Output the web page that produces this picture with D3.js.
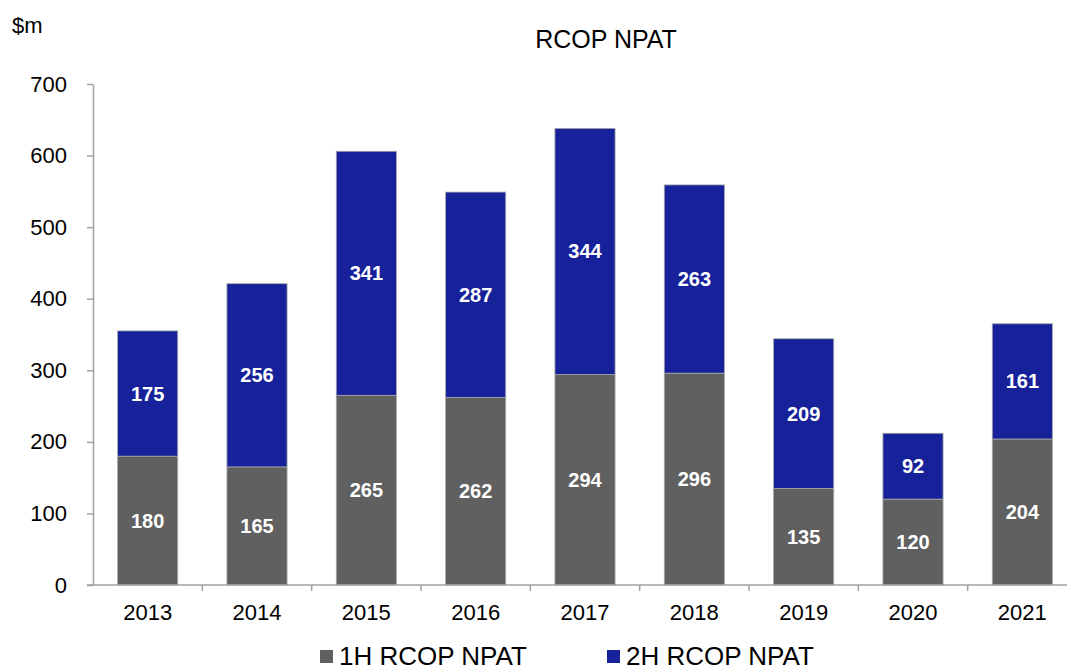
<!DOCTYPE html>
<html>
<head>
<meta charset="utf-8">
<script src="https://cdn.jsdelivr.net/npm/d3@7"></script>
<style>
  body { margin: 0; background: #fff; }
  svg text { font-family: "Liberation Sans", Arial, sans-serif; }
</style>
</head>
<body>
<div id="chart"></div>
<script>
// values
var years = ["2013", "2014", "2015", "2016", "2017", "2018", "2019", "2020", "2021"];
var firstHalf = [180, 165, 265, 262, 294, 296, 135, 120, 204];
var secondHalf = [175, 256, 341, 287, 344, 263, 209, 92, 161];
var yTicks = [0, 100, 200, 300, 400, 500, 600, 700];
var seriesNames = ["1H RCOP NPAT", "2H RCOP NPAT"];

var W = 1067, H = 666;
var MARGIN = {TOP: 84, LEFT: 93, BOTTOM: 81};
var COLORS = ["#606060", "#17229a"];

const svg = d3.select("#chart").append("svg")
  .attr("width", W)
  .attr("height", H)

var x = d3.scaleBand()
  .domain(years)
  .range([MARGIN.LEFT, 1077])
  .paddingInner(0.45)
  .paddingOuter(0.225)

var y = d3.scaleLinear()
  .domain([0, 700])
  .range([H - MARGIN.BOTTOM, MARGIN.TOP])

// y axis
var yAxis = svg.append("g")
  .attr("transform", `translate(${MARGIN.LEFT},0)`)
  .call(d3.axisLeft(y).tickValues(yTicks).tickSize(6).tickPadding(20).tickSizeOuter(0))
yAxis.selectAll("text").style("font-size", "22px").style("fill", "#000")

// stacked bars
var stacked = years.map(function(yr, i) {
  return {year: yr, a: firstHalf[i], b: secondHalf[i]}
})

var bars = svg.append("g")
bars.selectAll("rect.h1")
  .data(stacked)
  .join("rect")
  .attr("class", "h1")
  .attr("x", d => x(d.year))
  .attr("width", x.bandwidth())
  .attr("y", d => y(d.a))
  .attr("height", d => y(0) - y(d.a))
  .attr("fill", COLORS[0])
  .attr("stroke", "#a8a8a8")
  .attr("stroke-width", 0.8)

bars.selectAll("rect.h2")
  .data(stacked)
  .join("rect")
  .attr("class", "h2")
  .attr("x", d => x(d.year))
  .attr("width", x.bandwidth())
  .attr("y", d => y(d.a + d.b))
  .attr("height", d => y(d.a) - y(d.a + d.b))
  .attr("fill", COLORS[1])
  .attr("stroke", "#a8a8a8")
  .attr("stroke-width", 0.8)

// value labels
bars.selectAll("text.l1")
  .data(stacked)
  .join("text")
  .attr("class", "l1")
  .attr("x", d => x(d.year) + x.bandwidth() / 2)
  .attr("y", d => y(d.a / 2) + 7)
  .attr("text-anchor", "middle")
  .style("font-size", "20px")
  .style("font-weight", "bold")
  .style("fill", "#fff")
  .text(d => d.a)

bars.selectAll("text.l2")
  .data(stacked)
  .join("text")
  .attr("class", "l2")
  .attr("x", d => x(d.year) + x.bandwidth() / 2)
  .attr("y", d => y(d.a + d.b / 2) + 7)
  .attr("text-anchor", "middle")
  .style("font-size", "20px")
  .style("font-weight", "bold")
  .style("fill", "#fff")
  .text(d => d.b)

// x axis with ticks between categories
var xAxis = svg.append("g")
  .attr("transform", `translate(0,${y(0)})`)
xAxis.append("line")
  .attr("x1", MARGIN.LEFT - 6)
  .attr("x2", W)
  .attr("stroke", "#a0a0a0")
  .attr("stroke-width", 1.5)
xAxis.selectAll("line.tk")
  .data(years)
  .join("line")
  .attr("class", "tk")
  .attr("x1", d => x(d) + x.bandwidth() + x.step() * 0.225)
  .attr("x2", d => x(d) + x.bandwidth() + x.step() * 0.225)
  .attr("y1", 0)
  .attr("y2", 6)
  .attr("stroke", "#a0a0a0")
  .attr("stroke-width", 1.5)
xAxis.selectAll("text")
  .data(years)
  .join("text")
  .attr("x", d => x(d) + x.bandwidth() / 2)
  .attr("y", 35)
  .attr("text-anchor", "middle")
  .style("font-size", "22px")
  .text(d => d)

yAxis.select(".domain").attr("stroke", "#a0a0a0").attr("stroke-width", 1.5)
yAxis.selectAll(".tick line").attr("stroke", "#a0a0a0").attr("stroke-width", 1.5)

// title and unit
svg.append("text")
  .attr("x", 606)
  .attr("y", 48)
  .attr("text-anchor", "middle")
  .style("font-size", "25px")
  .text("RCOP NPAT")

svg.append("text")
  .attr("x", 12)
  .attr("y", 33)
  .style("font-size", "22px")
  .text("$m")

// legend
var legendX = [320, 607];
var legend = svg.append("g")
legend.selectAll("rect")
  .data(seriesNames)
  .join("rect")
  .attr("x", (d, i) => legendX[i])
  .attr("y", 650)
  .attr("width", 13)
  .attr("height", 13)
  .attr("fill", (d, i) => COLORS[i])
legend.selectAll("text")
  .data(seriesNames)
  .join("text")
  .attr("x", (d, i) => legendX[i] + 19)
  .attr("y", 665)
  .style("font-size", "26px")
  .text(d => d)
</script>
</body>
</html>
